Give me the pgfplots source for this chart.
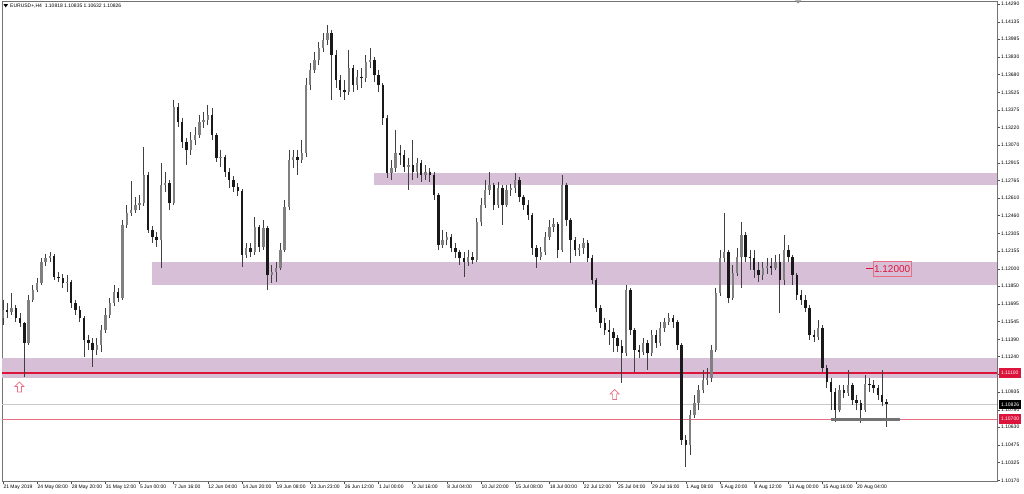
\documentclass[border=0pt]{standalone}
\usepackage{pgfplots}
\usepackage{pgfplotstable}
\pgfplotsset{compat=1.18}
\usepackage{fontspec}
\setmainfont{Liberation Sans}
\definecolor{zone}{RGB}{216,191,216}
\definecolor{crim}{RGB}{220,20,60}
\definecolor{lred}{RGB}{232,110,130}
\definecolor{lgray}{RGB}{200,200,200}
\pgfplotstableread{
x o h l c
0 1.11574 1.11730 1.11514 1.11644
2 1.11644 1.11704 1.11574 1.11626
4 1.11626 1.11791 1.11600 1.11661
6 1.11661 1.11687 1.11540 1.11574
8 1.11574 1.11618 1.11496 1.11531
10 1.11531 1.11540 1.11064 1.11358
12 1.11358 1.11773 1.11341 1.11730
14 1.11730 1.11860 1.11713 1.11817
16 1.11817 1.11920 1.11799 1.11877
18 1.11877 1.12093 1.11860 1.12059
20 1.12059 1.12128 1.12024 1.12093
22 1.12093 1.12145 1.12059 1.12111
24 1.12111 1.12128 1.11903 1.11929
26 1.11929 1.11972 1.11886 1.11920
28 1.11920 1.11955 1.11834 1.11877
30 1.11877 1.11946 1.11799 1.11886
32 1.11886 1.11903 1.11661 1.11704
34 1.11704 1.11730 1.11600 1.11644
36 1.11644 1.11678 1.11540 1.11574
38 1.11574 1.11592 1.11237 1.11384
40 1.11384 1.11427 1.11298 1.11358
42 1.11358 1.11401 1.11150 1.11298
44 1.11298 1.11401 1.11254 1.11341
46 1.11341 1.11514 1.11280 1.11471
48 1.11471 1.11661 1.11445 1.11600
50 1.11600 1.11747 1.11574 1.11704
52 1.11704 1.11860 1.11678 1.11799
54 1.11799 1.11834 1.11713 1.11747
56 1.11747 1.12422 1.11730 1.12379
58 1.12379 1.12552 1.12353 1.12483
60 1.12483 1.12759 1.12457 1.12509
62 1.12509 1.12621 1.12483 1.12552
64 1.12552 1.12638 1.12509 1.12569
66 1.12569 1.13053 1.12543 1.12811
68 1.12811 1.12837 1.12310 1.12336
70 1.12336 1.12370 1.12223 1.12275
72 1.12275 1.12318 1.12188 1.12249
74 1.12249 1.12915 1.12007 1.12725
76 1.12725 1.12837 1.12664 1.12742
78 1.12742 1.12768 1.12509 1.12569
80 1.12569 1.13460 1.12552 1.13399
82 1.13399 1.13434 1.13226 1.13270
84 1.13270 1.13304 1.13045 1.13097
86 1.13097 1.13131 1.12898 1.13028
88 1.13028 1.13183 1.12984 1.13114
90 1.13114 1.13226 1.13071 1.13157
92 1.13157 1.13330 1.13131 1.13270
94 1.13270 1.13356 1.13218 1.13287
96 1.13287 1.13417 1.13244 1.13330
98 1.13330 1.13391 1.13114 1.13157
100 1.13157 1.13175 1.12924 1.12958
102 1.12958 1.13028 1.12880 1.12967
104 1.12967 1.12984 1.12794 1.12837
106 1.12837 1.12872 1.12699 1.12768
108 1.12768 1.12803 1.12664 1.12707
110 1.12707 1.12742 1.12630 1.12673
112 1.12673 1.12690 1.12015 1.12119
114 1.12119 1.12223 1.12093 1.12180
116 1.12180 1.12223 1.12102 1.12145
118 1.12145 1.12448 1.12119 1.12361
120 1.12361 1.12379 1.12145 1.12188
122 1.12188 1.12422 1.12163 1.12353
124 1.12353 1.12370 1.11817 1.11946
126 1.11946 1.12033 1.11877 1.11972
128 1.11972 1.12059 1.11886 1.12007
130 1.12007 1.12223 1.11989 1.12163
132 1.12163 1.12595 1.12145 1.12534
134 1.12534 1.13028 1.12509 1.12941
136 1.12941 1.13028 1.12872 1.12967
138 1.12967 1.13028 1.12811 1.12941
140 1.12941 1.13114 1.12915 1.13002
142 1.13002 1.13650 1.12967 1.13590
144 1.13590 1.13780 1.13547 1.13720
146 1.13720 1.13875 1.13694 1.13806
148 1.13806 1.13962 1.13763 1.13910
150 1.13910 1.14040 1.13875 1.13979
152 1.13979 1.14109 1.13936 1.14040
154 1.14040 1.14065 1.13460 1.13849
156 1.13849 1.13893 1.13564 1.13633
158 1.13633 1.13676 1.13486 1.13547
160 1.13547 1.13633 1.13460 1.13529
162 1.13529 1.13893 1.13503 1.13737
164 1.13737 1.13763 1.13529 1.13590
166 1.13590 1.13720 1.13547 1.13659
168 1.13659 1.13737 1.13564 1.13650
170 1.13650 1.13849 1.13616 1.13789
172 1.13789 1.13910 1.13737 1.13806
174 1.13806 1.13832 1.13616 1.13676
176 1.13676 1.13720 1.13529 1.13590
178 1.13590 1.13607 1.13244 1.13304
180 1.13304 1.13330 1.12785 1.12829
182 1.12829 1.12941 1.12768 1.12872
184 1.12872 1.13200 1.12837 1.13002
186 1.13002 1.13071 1.12898 1.12984
188 1.12984 1.13028 1.12837 1.12880
190 1.12880 1.12958 1.12682 1.12898
192 1.12898 1.13114 1.12768 1.12837
194 1.12837 1.12958 1.12785 1.12915
196 1.12915 1.12941 1.12751 1.12811
198 1.12811 1.12898 1.12768 1.12837
200 1.12837 1.12872 1.12751 1.12811
202 1.12811 1.12837 1.12595 1.12638
204 1.12638 1.12656 1.12163 1.12206
206 1.12206 1.12336 1.12180 1.12249
208 1.12249 1.12318 1.12206 1.12275
210 1.12275 1.12301 1.12145 1.12180
212 1.12180 1.12223 1.12093 1.12145
214 1.12145 1.12163 1.12033 1.12093
216 1.12093 1.12145 1.11929 1.12059
218 1.12059 1.12163 1.12024 1.12102
220 1.12102 1.12145 1.12041 1.12076
222 1.12076 1.12439 1.12059 1.12405
224 1.12405 1.12612 1.12370 1.12552
226 1.12552 1.12768 1.12526 1.12682
228 1.12682 1.12837 1.12638 1.12725
230 1.12725 1.12742 1.12509 1.12552
232 1.12552 1.12751 1.12526 1.12699
234 1.12699 1.12725 1.12379 1.12552
236 1.12552 1.12725 1.12534 1.12682
238 1.12682 1.12733 1.12630 1.12699
240 1.12699 1.12829 1.12656 1.12768
242 1.12768 1.12794 1.12578 1.12621
244 1.12621 1.12638 1.12509 1.12552
246 1.12552 1.12595 1.12422 1.12465
248 1.12465 1.12483 1.12119 1.12180
250 1.12180 1.12206 1.12007 1.12102
252 1.12102 1.12188 1.12076 1.12145
254 1.12145 1.12318 1.12119 1.12275
256 1.12275 1.12422 1.12249 1.12361
258 1.12361 1.12439 1.12318 1.12387
260 1.12387 1.12405 1.12093 1.12163
262 1.12163 1.12811 1.12145 1.12725
264 1.12725 1.12742 1.12370 1.12422
266 1.12422 1.12439 1.12050 1.12249
268 1.12249 1.12275 1.12111 1.12163
270 1.12163 1.12214 1.12111 1.12180
272 1.12180 1.12266 1.12128 1.12223
274 1.12223 1.12249 1.12059 1.12093
276 1.12093 1.12119 1.11868 1.11903
278 1.11903 1.11920 1.11626 1.11661
280 1.11661 1.11687 1.11488 1.11531
282 1.11531 1.11574 1.11427 1.11471
284 1.11471 1.11557 1.11341 1.11453
286 1.11453 1.11488 1.11280 1.11401
288 1.11401 1.11427 1.11280 1.11332
290 1.11332 1.11384 1.11012 1.11272
292 1.11272 1.11860 1.11246 1.11817
294 1.11817 1.11834 1.11427 1.11471
296 1.11471 1.11488 1.11107 1.11298
298 1.11298 1.11341 1.11228 1.11280
300 1.11280 1.11401 1.11254 1.11358
302 1.11358 1.11384 1.11125 1.11272
304 1.11272 1.11471 1.11246 1.11427
306 1.11427 1.11471 1.11315 1.11358
308 1.11358 1.11540 1.11332 1.11488
310 1.11488 1.11574 1.11453 1.11540
312 1.11540 1.11618 1.11514 1.11574
314 1.11574 1.11600 1.11488 1.11540
316 1.11540 1.11557 1.11298 1.11341
318 1.11341 1.11358 1.10476 1.10519
320 1.10519 1.10562 1.10285 1.10476
322 1.10476 1.10779 1.10389 1.10735
324 1.10735 1.10908 1.10709 1.10839
326 1.10839 1.10995 1.10779 1.10952
328 1.10952 1.11125 1.10926 1.11038
330 1.11038 1.11142 1.10995 1.11055
332 1.11055 1.11341 1.11021 1.11298
334 1.11298 1.11834 1.11280 1.11791
336 1.11791 1.12163 1.11765 1.12093
338 1.12093 1.12483 1.12059 1.12145
340 1.12145 1.12163 1.11704 1.11747
342 1.11747 1.12033 1.11730 1.11964
344 1.11964 1.12180 1.11938 1.12102
346 1.12102 1.12405 1.11834 1.12292
348 1.12292 1.12318 1.12059 1.12102
350 1.12102 1.12163 1.11989 1.12093
352 1.12093 1.12163 1.11920 1.11989
354 1.11989 1.12059 1.11886 1.11946
356 1.11946 1.12059 1.11903 1.12007
358 1.12007 1.12093 1.11955 1.12024
360 1.12024 1.12093 1.11946 1.12007
362 1.12007 1.12119 1.11989 1.12059
364 1.12059 1.12128 1.11618 1.11903
366 1.11903 1.12292 1.11860 1.12163
368 1.12163 1.12206 1.12059 1.12102
370 1.12102 1.12119 1.11860 1.11946
372 1.11946 1.11964 1.11730 1.11773
374 1.11773 1.11817 1.11687 1.11730
376 1.11730 1.11773 1.11626 1.11661
378 1.11661 1.11687 1.11384 1.11427
380 1.11427 1.11471 1.11367 1.11410
382 1.11410 1.11557 1.11384 1.11488
384 1.11488 1.11514 1.11107 1.11142
386 1.11142 1.11168 1.10969 1.11021
388 1.11021 1.11055 1.10779 1.10934
390 1.10934 1.10969 1.10675 1.10779
392 1.10779 1.10995 1.10761 1.10952
394 1.10952 1.10995 1.10882 1.10926
396 1.10926 1.11125 1.10900 1.10995
398 1.10995 1.11012 1.10822 1.10865
400 1.10865 1.10908 1.10779 1.10839
402 1.10839 1.10865 1.10666 1.10779
404 1.10779 1.11081 1.10761 1.11003
406 1.11003 1.11055 1.10934 1.10995
408 1.10995 1.11038 1.10926 1.10969
410 1.10969 1.10995 1.10865 1.10908
412 1.10908 1.11125 1.10813 1.10848
414 1.10848 1.10870 1.10632 1.10826
}\candles
\begin{document}
\begin{tikzpicture}
\path[use as bounding box] (0,0) rectangle (1024pt,494pt);
\begin{axis}[
  at={(2pt,12.5pt)}, anchor=south west,
  width=995pt, height=480.5pt, scale only axis,
  xmin=-0.47, xmax=465.8, ymin=1.10160, ymax=1.14316,
  clip=false,
  axis line style={black!55, line width=0.8pt},
  ytick pos=right, xtick pos=left,
  tick align=outside, major tick length=3pt,
  tick style={black!70, line width=0.5pt},
  xtick={0,16,...,400},
  xticklabels={21 May 2019,24 May 08:00,28 May 20:00,31 May 12:00,5 Jun 00:00,7 Jun 16:00,12 Jun 04:00,14 Jun 20:00,19 Jun 08:00,23 Jun 23:00,26 Jun 12:00,1 Jul 00:00,3 Jul 16:00,8 Jul 04:00,10 Jul 20:00,15 Jul 08:00,18 Jul 00:00,22 Jul 12:00,25 Jul 04:00,29 Jul 16:00,1 Aug 08:00,5 Aug 20:00,8 Aug 12:00,13 Aug 00:00,15 Aug 16:00,20 Aug 04:00},
  xticklabel style={anchor=north west, font=\fontsize{5}{6}\selectfont, inner sep=0pt, xshift=0.3pt, yshift=-0.5pt},
  ytick={1.14290,1.14135,1.13985,1.13830,1.13680,1.13525,1.13375,1.13220,1.13070,1.12915,1.12765,1.12610,1.12460,1.12305,1.12155,1.12000,1.11850,1.11695,1.11545,1.11390,1.11240,1.11085,1.10935,1.10780,1.10630,1.10475,1.10325,1.10170},
  yticklabels={1.14290,1.14135,1.13985,1.13830,1.13680,1.13525,1.13375,1.13220,1.13070,1.12915,1.12765,1.12610,1.12460,1.12305,1.12155,1.12000,1.11850,1.11695,1.11545,1.11390,1.11240,{},1.10935,1.10780,1.10630,1.10475,1.10325,1.10170},
  yticklabel style={anchor=west, font=\fontsize{5}{6}\selectfont, inner sep=0pt, xshift=1pt},
]
% zones
\addplot[fill=zone, draw=none, forget plot] coordinates {(173.9,1.12726) (465.8,1.12726) (465.8,1.12829) (173.9,1.12829)} -- cycle;
\addplot[fill=zone, draw=none, forget plot] coordinates {(69.8,1.11861) (465.8,1.11861) (465.8,1.12060) (69.8,1.12060)} -- cycle;
\addplot[fill=zone, draw=none, forget plot] coordinates {(-0.47,1.11057) (465.8,1.11057) (465.8,1.11230) (-0.47,1.11230)} -- cycle;
% level lines
\addplot[lgray, line width=0.8pt, forget plot] coordinates {(-0.47,1.10826) (465.8,1.10826)};
\addplot[lred, line width=0.8pt, forget plot] coordinates {(-0.47,1.10700) (465.8,1.10700)};
\addplot[crim, line width=1.8pt, forget plot] coordinates {(-0.47,1.11100) (465.8,1.11100)};
% wicks
\addplot[draw=none, mark=none, forget plot,
  error bars/.cd, y dir=minus, y explicit, error mark=none,
  error bar style={draw=black!75, line width=0.8pt}]
  table[x=x, y=h, y error minus expr={\thisrow{h}-\thisrow{l}}] {\candles};
% bull bodies
\addplot[draw=none, mark=none, forget plot,
  restrict expr to domain={\thisrow{c}-\thisrow{o}}{0:1},
  error bars/.cd, y dir=minus, y explicit, error mark=none,
  error bar style={draw=black!50, line width=2.4pt}]
  table[x=x, y=c, y error minus expr={\thisrow{c}-\thisrow{o}}] {\candles};
% bear bodies
\addplot[draw=none, mark=none, forget plot,
  restrict expr to domain={\thisrow{c}-\thisrow{o}}{-1:0},
  error bars/.cd, y dir=minus, y explicit, error mark=none,
  error bar style={draw=black!90, line width=2.4pt}]
  table[x=x, y=o, y error minus expr={\thisrow{o}-\thisrow{c}}] {\candles};
% support segment
\addplot[black!55, line width=3pt, forget plot] coordinates {(388,1.10700) (420.3,1.10700)};
% 1.12000 label
\addplot[crim, line width=0.6pt, forget plot] coordinates {(404.4,1.12000) (407.6,1.12000)};
\node[anchor=west, draw=lred, line width=0.5pt, text=crim, font=\fontsize{10}{11}\selectfont, inner xsep=0.8pt, inner ysep=0pt, minimum height=15pt] at (axis cs:407.7,1.12000) {1.12000};
\coordinate (L1) at (axis cs:465.8,1.11100);
\coordinate (L2) at (axis cs:465.8,1.10826);
\coordinate (L3) at (axis cs:465.8,1.10700);
\coordinate (A1) at (axis cs:7.7,1.10977);
\coordinate (A2) at (axis cs:286.6,1.10913);
\end{axis}
\foreach \c in {A1,A2}{
  \draw[lred, line width=0.7pt, shift={(\c)}] (0,5pt) -- (-4.5pt,0.5pt) -- (-2pt,0.5pt) -- (-2pt,-5pt) -- (2pt,-5pt) -- (2pt,0.5pt) -- (4.5pt,0.5pt) -- cycle;
}
\node[anchor=west, fill=crim, text=white, font=\fontsize{5}{6}\selectfont, inner xsep=2.3pt, inner ysep=0pt, minimum height=9.5pt] at ([xshift=1.5pt]L1) {1.11100};
\node[anchor=west, fill=black, text=white, font=\fontsize{5}{6}\selectfont, inner xsep=2.3pt, inner ysep=0pt, minimum height=9pt] at ([xshift=1.5pt]L2) {1.10826};
\node[anchor=west, fill=crim, text=white, font=\fontsize{5}{6}\selectfont, inner xsep=2.3pt, inner ysep=0pt, minimum height=9.5pt] at ([xshift=1.5pt]L3) {1.10700};
\fill[black] (3.5pt,489.8pt) -- (8pt,489.8pt) -- (5.75pt,486.6pt) -- cycle;
\node[anchor=west, font=\fontsize{5}{6}\selectfont, inner sep=0pt] at (10pt,488pt) {EURUSD+,H4\ \ 1.10818 1.10835 1.10632 1.10826};
\fill[black!45] (795pt,493.5pt) -- (801pt,493.5pt) -- (798pt,490.5pt) -- cycle;
\end{tikzpicture}
\end{document}
